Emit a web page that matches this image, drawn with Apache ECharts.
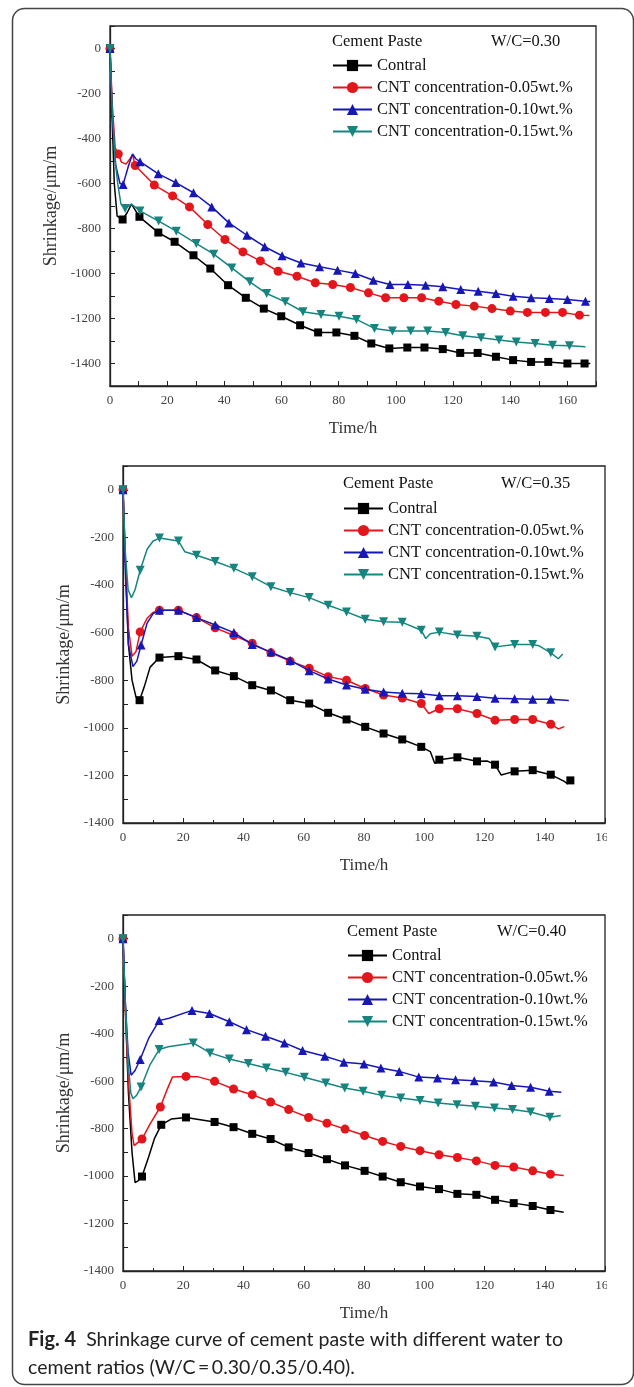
<!DOCTYPE html>
<html>
<head>
<meta charset="utf-8">
<script src="https://cdn.jsdelivr.net/npm/echarts@6/dist/echarts.min.js"></script>
<style>
  html, body { margin: 0; padding: 0; background: #fff; }
  #chart { width: 634px; height: 1387px; }
</style>
</head>
<body>
<div id="chart"></div>
<script>
// [time, shrinkage] ; a third value 0 means no marker at that point
const names = ['Contral', 'CNT concentration-0.05wt.%', 'CNT concentration-0.10wt.%', 'CNT concentration-0.15wt.%'];
const ratios = ['W/C=0.30', 'W/C=0.35', 'W/C=0.40'];

// W/C = 0.30
const a_ctrl = [[0,0],[0.6,-250,0],[1.5,-600,0],[2.5,-745,0],[4.4,-760],[6,-730,0],[7.5,-692,0],[10.3,-748],[16.9,-818],[22.6,-859],[29.2,-919],[35.1,-978],[41.3,-1052],[47.5,-1108],[53.8,-1156],[59.9,-1190],[66.5,-1230],[72.8,-1262],[79.2,-1262],[85.5,-1277],[91.4,-1311],[97.7,-1333],[104,-1329],[110,-1329],[116.4,-1336],[122.5,-1353],[128.6,-1353],[135,-1370],[141,-1385],[147.3,-1393],[153.3,-1393],[160,-1400],[166,-1400],[168,-1400,0]];
const a_005 = [[0,0],[0.8,-250,0],[1.8,-440,0],[2.9,-469],[4,-505,0],[5.6,-514,0],[7,-490,0],[7.9,-472,0],[8.8,-520],[15.5,-607],[21.9,-655],[27.8,-704],[34.2,-782],[40.2,-849],[46.5,-904],[52.6,-944],[58.8,-990],[65.4,-1012],[71.8,-1041],[77.9,-1049],[84.1,-1062],[90.4,-1086],[96.4,-1108],[102.8,-1108],[109,-1108],[115,-1123],[121,-1138],[127.4,-1145],[133.6,-1156],[140,-1167],[146,-1173],[152.3,-1173],[158.3,-1173],[164.2,-1185],[167.7,-1187,0]];
const a_010 = [[0,0],[0.8,-300,0],[2,-520,0],[3.5,-600,0],[4.6,-604],[6.5,-520,0],[7.9,-469,0],[9,-490,0],[10.5,-503],[16.9,-557],[23,-596],[29.2,-641],[35.6,-704],[41.6,-775],[47.9,-830],[54.1,-881],[60.2,-921],[66.8,-953],[73.3,-970],[79.6,-985],[85.8,-1000],[92.1,-1030],[97.9,-1049],[104.2,-1049],[110.4,-1052],[116.4,-1059],[122.7,-1071],[128.8,-1079],[135,-1089],[141,-1101],[147.3,-1108],[153.7,-1111],[160,-1116],[166.3,-1123],[168,-1124,0]];
const a_015 = [[0,0],[0.7,-250,0],[1.8,-500,0],[2.7,-600,0],[3.8,-690,0],[5.3,-711],[7.5,-692,0],[10.5,-722],[17,-767],[23.2,-812],[30.2,-867],[36.3,-914],[42.6,-975],[48.9,-1037],[54.8,-1089],[61.3,-1126],[67.5,-1170],[73.8,-1182],[80.1,-1190],[86.2,-1204],[92.5,-1244],[98.8,-1256],[105.2,-1256],[111.1,-1256],[117.4,-1262],[123.4,-1277],[129.8,-1286],[136.1,-1296],[142.1,-1304],[148.7,-1311],[154.8,-1319],[160.7,-1321],[166.3,-1326,0]];

// W/C = 0.35
const b_ctrl = [[0,0],[0.8,-300,0],[1.8,-650,0],[3,-800,0],[4.3,-870,0],[5.5,-884],[7,-830,0],[9,-745,0],[12.1,-705],[18.4,-699],[24.4,-713],[30.6,-759],[36.8,-783],[42.9,-821],[49.1,-843],[55.5,-884],[61.8,-898],[68.1,-937],[74.2,-965],[80.4,-996],[86.5,-1024],[92.7,-1049],[99,-1080],[102,-1100,0],[103.5,-1150,0],[105,-1134],[111,-1124],[117.5,-1141],[121,-1140,0],[123.5,-1155],[125.5,-1198,0],[130,-1183],[136,-1178],[142,-1197],[146.5,-1225,0],[147.5,-1235,0],[148.5,-1221]];
const b_005 = [[0,0],[0.8,-300,0],[1.8,-580,0],[3,-699,0],[4.3,-680,0],[5.7,-597],[8,-540,0],[10,-515,0],[12.1,-506],[18.4,-506],[24.4,-537],[30.6,-580],[36.8,-612],[42.9,-645],[49.1,-685],[55.5,-720],[61.8,-750],[68.1,-785],[74.2,-800],[80.4,-835],[86.5,-862],[92.7,-875],[99,-898],[101.5,-940,0],[105,-920],[111,-920],[117.5,-940],[123.5,-968],[130,-965],[136,-965],[142,-985],[144.5,-1005,0],[146.5,-995,0]];
const b_010 = [[0,0],[0.8,-350,0],[1.8,-650,0],[3.3,-743,0],[4.6,-720,0],[6,-652],[8,-560,0],[10,-520,0],[12.1,-506],[18.4,-506],[24.4,-537],[30.6,-568],[36.8,-600],[42.9,-650],[49.1,-682],[55.5,-717],[61.8,-760],[68.1,-795],[74.2,-820],[80.4,-838],[86.5,-850],[92.7,-855],[99,-857],[105,-865],[111,-865],[117.5,-868],[123.5,-876],[130,-878],[136,-880],[142,-880],[148,-885,0]];
const b_015 = [[0,0],[0.7,-250,0],[1.7,-420,0],[2.8,-453,0],[4,-420,0],[5.7,-338],[8,-250,0],[10,-215,0],[12.1,-203],[18.4,-215],[20.5,-260,0],[24.4,-275],[30.6,-301],[36.8,-330],[42.9,-365],[49.1,-407],[55.5,-432],[61.8,-453],[68.1,-485],[74.2,-513],[80.4,-544],[86.5,-554],[92.7,-557],[99,-590],[100.5,-625,0],[102,-605,0],[105,-598],[111,-610],[117.5,-615],[121.5,-625,0],[123.5,-660],[130,-650],[136,-650],[138,-655,0],[142,-685],[144.5,-710,0],[146,-690,0]];

// W/C = 0.40
const c_ctrl = [[0,0],[0.8,-300,0],[1.8,-650,0],[3,-900,0],[4,-1027,0],[5,-1020,0],[6.3,-1002],[8.5,-920,0],[10.5,-840,0],[12.7,-784],[16,-760,0],[20.9,-753],[30.4,-772],[36.7,-794],[42.9,-822],[49,-844],[55,-879],[61.6,-903],[67.7,-929],[73.7,-955],[80.2,-978],[86.2,-1002],[92.2,-1026],[98.6,-1044],[104.9,-1055],[111,-1075],[117.3,-1079],[123.5,-1100],[129.7,-1114],[136,-1126],[141.9,-1143],[146.3,-1152,0]];
const c_005 = [[0,0],[0.8,-300,0],[1.8,-600,0],[3,-820,0],[3.7,-872,0],[4.8,-860,0],[6.3,-844],[9,-780,0],[12.4,-709],[14.5,-640,0],[16.4,-583,0],[20.9,-580],[25,-582,0],[30.4,-601],[36.7,-633],[42.9,-657],[49,-688],[55,-720],[61.6,-753],[67.7,-777],[73.7,-802],[80.2,-829],[86.2,-854],[92.2,-875],[98.6,-893],[104.9,-910],[111,-922],[117.3,-936],[123.5,-955],[129.7,-962],[136,-978],[141.9,-992],[146.3,-998,0]];
const c_010 = [[0,0],[0.7,-250,0],[1.7,-480,0],[2.7,-575,0],[4,-555,0],[5.7,-509],[8.5,-420,0],[12,-345],[15.3,-335,0],[22.9,-302],[28.7,-315],[35.3,-350],[41,-383],[47.3,-411],[53.6,-439],[59.6,-471],[67,-495],[73.3,-520],[80,-528],[85.6,-545],[91.7,-559],[98.2,-583],[104.4,-587],[110.4,-594],[116.6,-598],[123,-604],[129,-618],[135.3,-626],[141.5,-643],[145.5,-647,0]];
const c_015 = [[0,0],[0.7,-250,0],[1.7,-520,0],[2.6,-650,0],[3.3,-674,0],[4.5,-660,0],[6,-625],[9,-530,0],[12,-467],[15,-455,0],[23.3,-439],[28.9,-481],[35.3,-507],[41.6,-526],[47.6,-545],[54,-563],[60.2,-584],[67.3,-608],[73.6,-629],[79.7,-643],[85.9,-660],[92.2,-671],[98.6,-682],[104.6,-692],[110.9,-699],[117,-706],[123.3,-713],[129.3,-720],[135.3,-730],[141.7,-752],[145.3,-745,0]];

const panels = [[a_ctrl, a_005, a_010, a_015], [b_ctrl, b_005, b_010, b_015], [c_ctrl, c_005, c_010, c_015]];

const colors = ['#000000', '#e3161c', '#1717b5', '#16857f'];
const symbols = ['rect', 'circle', 'triangle', 'path://M0,0L10,0L5,9Z'];
const symSizes = [8, 9, 9, 9];
const serif = '"Liberation Serif", "DejaVu Serif", serif';
const sans = 'Lato, "Noto Sans", sans-serif';

const grids = [
  { left: 110, top: 26, width: 486, height: 360 },
  { left: 123, top: 466, width: 482, height: 357 },
  { left: 123, top: 915, width: 482, height: 356 }
];
const xMax = [170, 160, 160];
const yMin = [-1500, -1400, -1400];
const legendPos = [[332, 57], [343, 500], [347, 947]];
const headY = [43, 485, 933];
const headX = [[332, 491], [343, 501], [347, 497]];

const axisCol = '#222';

let xAxes = [], yAxes = [], series = [], legends = [], texts = [];

grids.forEach((g, gi) => {
  g.show = true;
  g.borderColor = axisCol;
  g.borderWidth = 1.3;
  xAxes.push({
    type: 'value', gridIndex: gi, min: 0, max: xMax[gi],
    interval: gi === 0 ? 10 : 20,
    axisLine: { onZero: false, lineStyle: { color: axisCol, width: 1.3 } },
    axisTick: { inside: true, length: 5, lineStyle: { color: axisCol } },
    minorTick: { show: gi !== 0, splitNumber: 2, length: 3, lineStyle: { color: axisCol } },
    splitLine: { show: false },
    axisLabel: { formatter: v => (v % 20 === 0 ? v : ''), fontFamily: serif, fontSize: 13, color: '#444', margin: 8 },
    name: 'Time/h', nameLocation: 'middle', nameGap: 34,
    nameTextStyle: { fontFamily: serif, fontSize: 17, color: '#333' }
  });
  yAxes.push({
    type: 'value', gridIndex: gi, min: yMin[gi], max: 100, interval: 100,
    axisLine: { onZero: false, lineStyle: { color: axisCol, width: 1.3 } },
    axisTick: { inside: true, length: 5, lineStyle: { color: axisCol } },
    splitLine: { show: false },
    axisLabel: { formatter: v => (v % 200 === 0 && v <= 0 ? v : ''), fontFamily: serif, fontSize: 13, color: '#444', margin: 9 },
    name: 'Shrinkage/\u03bcm/m', nameLocation: 'middle', nameGap: 49, nameRotate: 90,
    nameTextStyle: { fontFamily: serif, fontSize: 18, color: '#333' }
  });
  panels[gi].forEach((pts, si) => {
    series.push({
      type: 'line', name: names[si], xAxisIndex: gi, yAxisIndex: gi,
      data: pts.map(p => (p[2] === 0 ? { value: [p[0], p[1]], symbol: 'none' } : { value: [p[0], p[1]] })),
      symbol: symbols[si], symbolSize: symSizes[si], showAllSymbol: true,
      color: colors[si],
      lineStyle: { color: colors[si], width: 1.5 },
      itemStyle: { color: colors[si] },
      z: 2 + si
    });
  });
  legends.push({
    data: names, orient: 'vertical', left: legendPos[gi][0], top: legendPos[gi][1],
    itemWidth: 39, itemHeight: 14, itemGap: 5, padding: 0,
    textStyle: { fontFamily: serif, fontSize: 16.5, color: '#111' }
  });
  texts.push({ type: 'text', left: headX[gi][0], top: headY[gi] - 10,
    style: { text: 'Cement Paste', font: '16.5px ' + serif, fill: '#111' } });
  texts.push({ type: 'text', left: headX[gi][1], top: headY[gi] - 10,
    style: { text: ratios[gi], font: '16.5px ' + serif, fill: '#111' } });
});

// outer frame and caption
texts.push({ type: 'rect', shape: { x: 12.5, y: 8.5, width: 621, height: 1376, r: 12 },
  style: { fill: 'none', stroke: '#444', lineWidth: 1.5 }, z: -1 });
// the source image is cut off at the right of the lower two panels
texts.push({ type: 'rect', shape: { x: 607, y: 828, width: 24, height: 22 }, style: { fill: '#fff' }, z: 100 });
texts.push({ type: 'rect', shape: { x: 607, y: 1276, width: 24, height: 22 }, style: { fill: '#fff' }, z: 100 });
texts.push({ type: 'text', left: 28, top: 1330, z: 100,
  style: { text: '{b|Fig. 4}  Shrinkage curve of cement paste with different water to',
    font: '19.5px ' + sans, fill: '#222',
    rich: { b: { fontWeight: 'bold', fontFamily: sans, fontSize: 20, fill: '#222' } } } });
texts.push({ type: 'text', left: 28, top: 1358, z: 100,
  style: { text: 'cement ratios (W/C\u2009=\u20090.30/0.35/0.40).', font: '19.5px ' + sans, fill: '#222' } });

const chart = echarts.init(document.getElementById('chart'));
chart.setOption({
  animation: false,
  backgroundColor: '#fff',
  grid: grids,
  xAxis: xAxes,
  yAxis: yAxes,
  legend: legends,
  series: series,
  graphic: texts
});
</script>
</body>
</html>
